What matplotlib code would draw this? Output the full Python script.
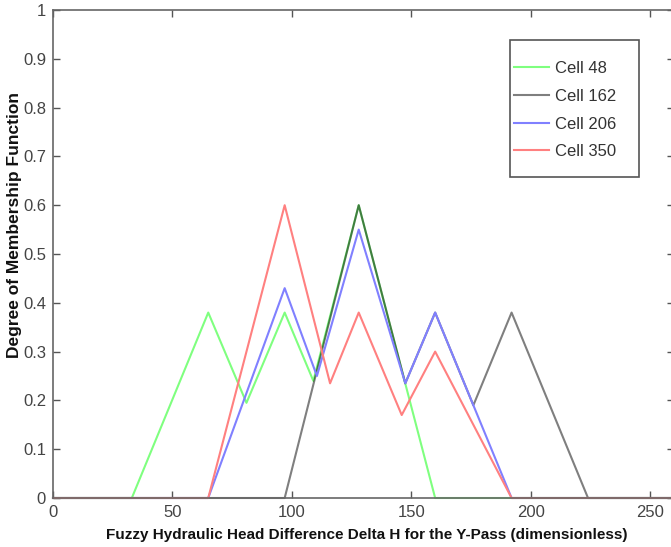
import matplotlib
matplotlib.use("Agg")
import matplotlib.pyplot as plt
from matplotlib.patches import Rectangle

plt.rcParams['font.family'] = ['Liberation Sans', 'DejaVu Sans']

# membership function breakpoints (delta H, degree) for each cell
cell48_x = [0, 33, 65, 81, 97, 109, 128, 160, 260]
cell48_y = [0, 0, 0.38, 0.195, 0.38, 0.24, 0.6, 0, 0]

cell162_x = [0, 97, 128, 147.5, 160, 176, 192, 224, 260]
cell162_y = [0, 0, 0.6, 0.235, 0.38, 0.19, 0.38, 0, 0]

cell206_x = [0, 65, 97, 110.5, 128, 147.5, 160, 192, 260]
cell206_y = [0, 0, 0.43, 0.25, 0.55, 0.235, 0.38, 0, 0]

cell350_x = [0, 65, 97, 116, 128, 146, 160, 192, 260]
cell350_y = [0, 0, 0.6, 0.235, 0.38, 0.17, 0.30, 0, 0]

labels = ["Cell 48", "Cell 162", "Cell 206", "Cell 350"]
# (colour, alpha): green/black are blended, blue/red are solid pale tones
styles = [("#00ff00", 0.5), ("#000000", 0.5), ("#8080ff", 1.0), ("#ff8080", 1.0)]

fig = plt.figure(figsize=(6.71, 5.47), dpi=100)
ax = fig.add_axes([53 / 671, 49 / 547, 621 / 671, 488 / 547])

series = [(cell48_x, cell48_y), (cell162_x, cell162_y),
          (cell206_x, cell206_y), (cell350_x, cell350_y)]
for (xs, ys), lab, (c, a) in zip(series, labels, styles):
    ax.plot(xs, ys, color=c, alpha=a, lw=1.5, label=lab, clip_on=False)

ax.set_xlim(0, 260)
ax.set_ylim(0, 1)
ax.set_xticks([0, 50, 100, 150, 200, 250])
ax.set_yticks([i / 10 for i in range(11)])
ax.set_yticklabels(["0"] + ["%.1f" % (i / 10) for i in range(1, 10)] + ["1"])
ax.tick_params(direction="in", length=5, width=1, colors="#555555",
               labelcolor="#444444", labelsize=12, top=True, right=True)
ax.tick_params(axis="x", pad=5)
ax.tick_params(axis="y", pad=5)
for sp in ax.spines.values():
    sp.set_color("#666666")
    sp.set_linewidth(1.2)

ax.set_xlabel("Fuzzy Hydraulic Head Difference Delta H for the Y-Pass (dimensionless)",
              fontsize=11, fontweight="bold", color="#111111")
ax.set_ylabel("Degree of Membership Function", fontsize=12.5,
              fontweight="bold", color="#111111")
ax.xaxis.set_label_coords(0.505, -0.062)
ax.yaxis.set_label_coords(-0.05, 0.56)

# legend drawn without frame, box added separately for the wider right margin
leg = ax.legend(loc="upper left", bbox_to_anchor=(0.742, 0.895), frameon=False,
                fontsize=12, handlelength=2.1, handletextpad=0.35,
                labelspacing=0.76, borderpad=0, borderaxespad=0)
for t in leg.get_texts():
    t.set_color("#333333")
ax.add_patch(Rectangle((0.736, 0.658), 0.207, 0.281, transform=ax.transAxes,
                       fill=False, edgecolor="#555555", lw=1.2, zorder=5))

fig.savefig("out.png", dpi=100)
